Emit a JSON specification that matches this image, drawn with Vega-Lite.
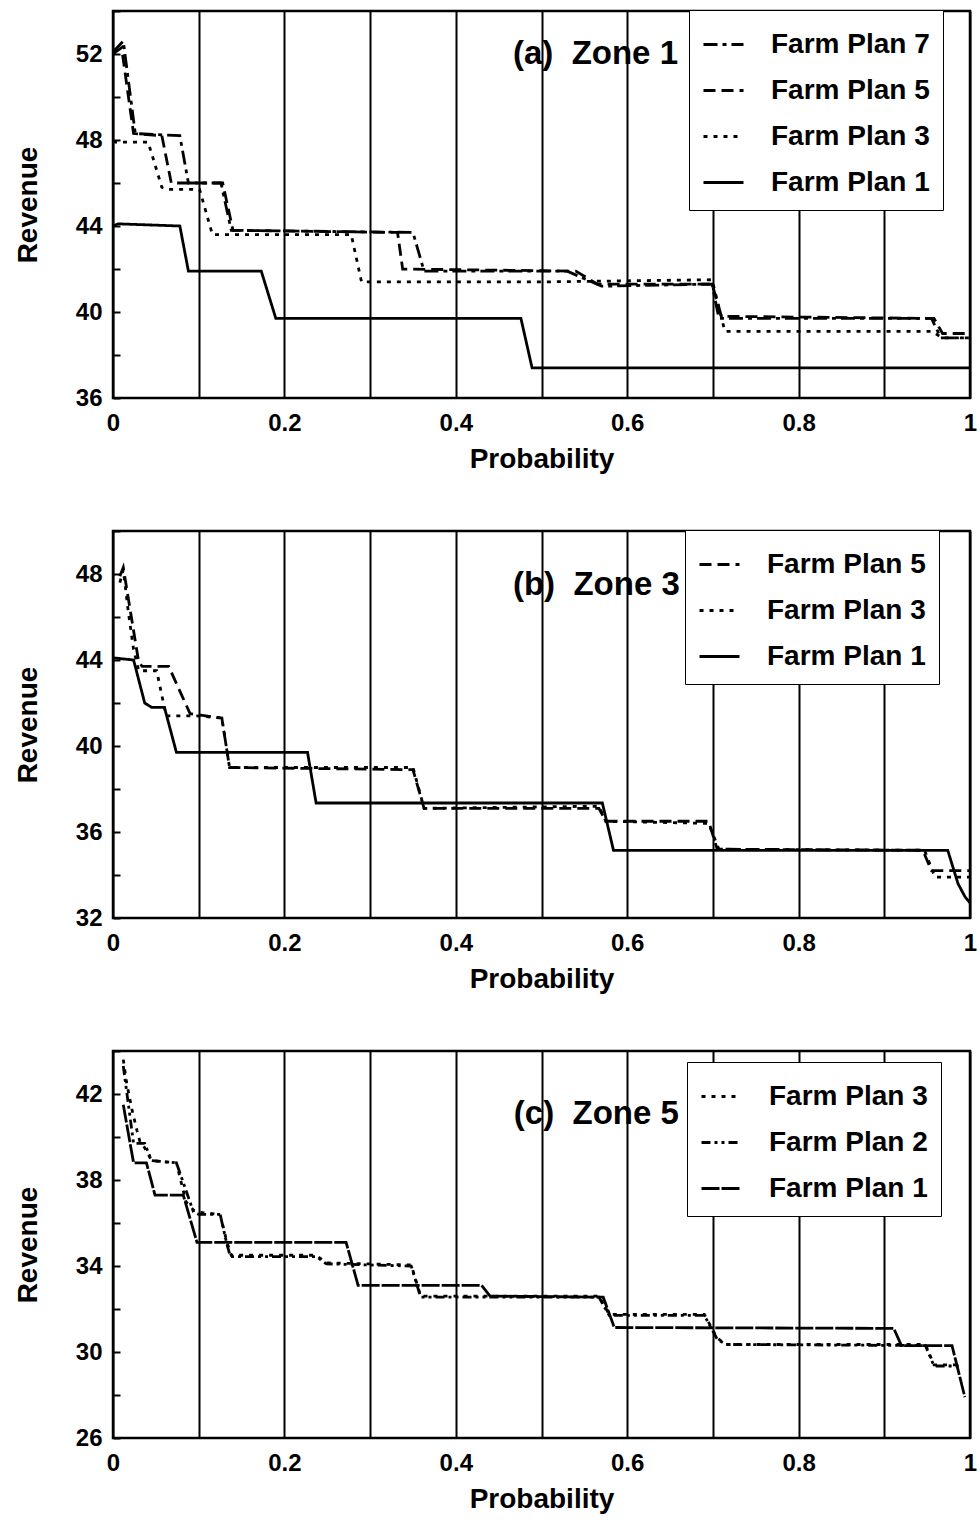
{
  "$schema": "https://vega.github.io/schema/vega-lite/v6.json",
  "background": "white",
  "padding": {"left": 13, "top": 8, "right": 6, "bottom": 4},
  "config": {
    "font": "Liberation Sans",
    "view": {"stroke": "black", "strokeWidth": 2.5},
    "axis": {
      "labelFont": "Liberation Sans", "labelFontWeight": "bold", "labelFontSize": 24, "labelColor": "black",
      "titleFont": "Liberation Sans", "titleFontWeight": "bold", "titleFontSize": 28, "titleColor": "black",
      "domain": false
    },
    "axisX": {
      "format": "~g",
      "grid": true, "gridColor": "black", "gridWidth": 2, "gridOpacity": 1,
      "ticks": false, "labelPadding": 13, "titlePadding": 10, "labelFlush": false
    },
    "axisY": {
      "grid": false, "ticks": true, "tickSize": -7, "tickWidth": 2, "tickColor": "black",
      "labelPadding": 18, "titlePadding": 33
    },
    "legend": {
      "orient": "none",
      "strokeColor": "black", "fillColor": "white", "padding": 13,
      "symbolType": "stroke", "symbolSize": 1600, "symbolStrokeWidth": 2.8, "symbolStrokeColor": "black",
      "labelFont": "Liberation Sans", "labelFontSize": 28, "labelFontWeight": "bold", "labelColor": "black",
      "labelOffset": 26, "rowPadding": 10, "title": null
    },
    "concat": {"spacing": 53}
  },
  "resolve": {"scale": {"strokeDash": "independent", "x": "independent", "y": "independent"}, "legend": {"strokeDash": "independent"}},
  "datasets": {
    "zone1": [
      {"plan": "Farm Plan 1", "p": 0, "rev": 44.0},
      {"plan": "Farm Plan 1", "p": 0.006, "rev": 44.1},
      {"plan": "Farm Plan 1", "p": 0.078, "rev": 44.0},
      {"plan": "Farm Plan 1", "p": 0.088, "rev": 41.9},
      {"plan": "Farm Plan 1", "p": 0.173, "rev": 41.9},
      {"plan": "Farm Plan 1", "p": 0.19, "rev": 39.7},
      {"plan": "Farm Plan 1", "p": 0.476, "rev": 39.7},
      {"plan": "Farm Plan 1", "p": 0.489, "rev": 37.4},
      {"plan": "Farm Plan 1", "p": 1, "rev": 37.4},
      {"plan": "Farm Plan 3", "p": 0, "rev": 47.9},
      {"plan": "Farm Plan 3", "p": 0.041, "rev": 47.9},
      {"plan": "Farm Plan 3", "p": 0.057, "rev": 45.8},
      {"plan": "Farm Plan 3", "p": 0.063, "rev": 45.7},
      {"plan": "Farm Plan 3", "p": 0.101, "rev": 45.7},
      {"plan": "Farm Plan 3", "p": 0.116, "rev": 43.6},
      {"plan": "Farm Plan 3", "p": 0.278, "rev": 43.6},
      {"plan": "Farm Plan 3", "p": 0.29, "rev": 41.4},
      {"plan": "Farm Plan 3", "p": 0.5, "rev": 41.4},
      {"plan": "Farm Plan 3", "p": 0.699, "rev": 41.5},
      {"plan": "Farm Plan 3", "p": 0.714, "rev": 39.1},
      {"plan": "Farm Plan 3", "p": 0.955, "rev": 39.1},
      {"plan": "Farm Plan 3", "p": 0.968, "rev": 38.8},
      {"plan": "Farm Plan 3", "p": 1, "rev": 38.8},
      {"plan": "Farm Plan 5", "p": 0, "rev": 52.0},
      {"plan": "Farm Plan 5", "p": 0.01, "rev": 52.3},
      {"plan": "Farm Plan 5", "p": 0.024, "rev": 48.3},
      {"plan": "Farm Plan 5", "p": 0.057, "rev": 48.2},
      {"plan": "Farm Plan 5", "p": 0.068, "rev": 46.0},
      {"plan": "Farm Plan 5", "p": 0.128, "rev": 46.0},
      {"plan": "Farm Plan 5", "p": 0.14, "rev": 43.8},
      {"plan": "Farm Plan 5", "p": 0.332, "rev": 43.7},
      {"plan": "Farm Plan 5", "p": 0.338, "rev": 42.0},
      {"plan": "Farm Plan 5", "p": 0.54, "rev": 41.9},
      {"plan": "Farm Plan 5", "p": 0.565, "rev": 41.3},
      {"plan": "Farm Plan 5", "p": 0.699, "rev": 41.3},
      {"plan": "Farm Plan 5", "p": 0.71, "rev": 39.8},
      {"plan": "Farm Plan 5", "p": 0.958, "rev": 39.7},
      {"plan": "Farm Plan 5", "p": 0.968, "rev": 39.0},
      {"plan": "Farm Plan 5", "p": 1, "rev": 39.0},
      {"plan": "Farm Plan 7", "p": 0, "rev": 52.1},
      {"plan": "Farm Plan 7", "p": 0.012, "rev": 52.6},
      {"plan": "Farm Plan 7", "p": 0.026, "rev": 48.3},
      {"plan": "Farm Plan 7", "p": 0.078, "rev": 48.2},
      {"plan": "Farm Plan 7", "p": 0.088, "rev": 46.0},
      {"plan": "Farm Plan 7", "p": 0.126, "rev": 46.0},
      {"plan": "Farm Plan 7", "p": 0.138, "rev": 43.8},
      {"plan": "Farm Plan 7", "p": 0.35, "rev": 43.7},
      {"plan": "Farm Plan 7", "p": 0.363, "rev": 41.9},
      {"plan": "Farm Plan 7", "p": 0.53, "rev": 41.9},
      {"plan": "Farm Plan 7", "p": 0.57, "rev": 41.2},
      {"plan": "Farm Plan 7", "p": 0.699, "rev": 41.3},
      {"plan": "Farm Plan 7", "p": 0.707, "rev": 39.7},
      {"plan": "Farm Plan 7", "p": 0.955, "rev": 39.7},
      {"plan": "Farm Plan 7", "p": 0.966, "rev": 38.8},
      {"plan": "Farm Plan 7", "p": 1, "rev": 38.8}
    ],
    "zone3": [
      {"plan": "Farm Plan 1", "p": 0, "rev": 44.1},
      {"plan": "Farm Plan 1", "p": 0.024, "rev": 44.0},
      {"plan": "Farm Plan 1", "p": 0.037, "rev": 42.0},
      {"plan": "Farm Plan 1", "p": 0.045, "rev": 41.8},
      {"plan": "Farm Plan 1", "p": 0.06, "rev": 41.8},
      {"plan": "Farm Plan 1", "p": 0.074, "rev": 39.7},
      {"plan": "Farm Plan 1", "p": 0.227, "rev": 39.7},
      {"plan": "Farm Plan 1", "p": 0.237, "rev": 37.35},
      {"plan": "Farm Plan 1", "p": 0.571, "rev": 37.35},
      {"plan": "Farm Plan 1", "p": 0.584, "rev": 35.15},
      {"plan": "Farm Plan 1", "p": 0.974, "rev": 35.15},
      {"plan": "Farm Plan 1", "p": 0.986, "rev": 33.6},
      {"plan": "Farm Plan 1", "p": 0.994, "rev": 33.0},
      {"plan": "Farm Plan 1", "p": 1, "rev": 32.7},
      {"plan": "Farm Plan 3", "p": 0.008, "rev": 47.6},
      {"plan": "Farm Plan 3", "p": 0.012, "rev": 48.2},
      {"plan": "Farm Plan 3", "p": 0.018, "rev": 46.2},
      {"plan": "Farm Plan 3", "p": 0.024, "rev": 44.5},
      {"plan": "Farm Plan 3", "p": 0.03, "rev": 43.5},
      {"plan": "Farm Plan 3", "p": 0.051, "rev": 43.5},
      {"plan": "Farm Plan 3", "p": 0.062, "rev": 41.4},
      {"plan": "Farm Plan 3", "p": 0.098, "rev": 41.4},
      {"plan": "Farm Plan 3", "p": 0.127, "rev": 41.3},
      {"plan": "Farm Plan 3", "p": 0.136, "rev": 39.0},
      {"plan": "Farm Plan 3", "p": 0.35, "rev": 39.0},
      {"plan": "Farm Plan 3", "p": 0.363, "rev": 37.1},
      {"plan": "Farm Plan 3", "p": 0.567, "rev": 37.2},
      {"plan": "Farm Plan 3", "p": 0.575, "rev": 36.5},
      {"plan": "Farm Plan 3", "p": 0.695, "rev": 36.4},
      {"plan": "Farm Plan 3", "p": 0.707, "rev": 35.2},
      {"plan": "Farm Plan 3", "p": 0.947, "rev": 35.15},
      {"plan": "Farm Plan 3", "p": 0.959, "rev": 33.9},
      {"plan": "Farm Plan 3", "p": 1, "rev": 33.9},
      {"plan": "Farm Plan 5", "p": 0.008, "rev": 47.9},
      {"plan": "Farm Plan 5", "p": 0.012, "rev": 48.3},
      {"plan": "Farm Plan 5", "p": 0.03, "rev": 43.9},
      {"plan": "Farm Plan 5", "p": 0.034, "rev": 43.7},
      {"plan": "Farm Plan 5", "p": 0.065, "rev": 43.7},
      {"plan": "Farm Plan 5", "p": 0.09, "rev": 41.5},
      {"plan": "Farm Plan 5", "p": 0.127, "rev": 41.3},
      {"plan": "Farm Plan 5", "p": 0.136, "rev": 39.0},
      {"plan": "Farm Plan 5", "p": 0.35, "rev": 38.9},
      {"plan": "Farm Plan 5", "p": 0.363, "rev": 37.1},
      {"plan": "Farm Plan 5", "p": 0.567, "rev": 37.1},
      {"plan": "Farm Plan 5", "p": 0.575, "rev": 36.5},
      {"plan": "Farm Plan 5", "p": 0.695, "rev": 36.5},
      {"plan": "Farm Plan 5", "p": 0.705, "rev": 35.2},
      {"plan": "Farm Plan 5", "p": 0.945, "rev": 35.15},
      {"plan": "Farm Plan 5", "p": 0.955, "rev": 34.2},
      {"plan": "Farm Plan 5", "p": 1, "rev": 34.2}
    ],
    "zone5": [
      {"plan": "Farm Plan 1", "p": 0.012, "rev": 41.5},
      {"plan": "Farm Plan 1", "p": 0.024, "rev": 38.8},
      {"plan": "Farm Plan 1", "p": 0.039, "rev": 38.8},
      {"plan": "Farm Plan 1", "p": 0.049, "rev": 37.3},
      {"plan": "Farm Plan 1", "p": 0.082, "rev": 37.3},
      {"plan": "Farm Plan 1", "p": 0.098, "rev": 35.1},
      {"plan": "Farm Plan 1", "p": 0.272, "rev": 35.1},
      {"plan": "Farm Plan 1", "p": 0.286, "rev": 33.1},
      {"plan": "Farm Plan 1", "p": 0.43, "rev": 33.1},
      {"plan": "Farm Plan 1", "p": 0.44, "rev": 32.6},
      {"plan": "Farm Plan 1", "p": 0.572, "rev": 32.55},
      {"plan": "Farm Plan 1", "p": 0.585, "rev": 31.14},
      {"plan": "Farm Plan 1", "p": 0.911, "rev": 31.1},
      {"plan": "Farm Plan 1", "p": 0.92, "rev": 30.3},
      {"plan": "Farm Plan 1", "p": 0.979, "rev": 30.3},
      {"plan": "Farm Plan 1", "p": 0.994, "rev": 27.9},
      {"plan": "Farm Plan 2", "p": 0.012, "rev": 43.3},
      {"plan": "Farm Plan 2", "p": 0.024, "rev": 39.7},
      {"plan": "Farm Plan 2", "p": 0.037, "rev": 39.7},
      {"plan": "Farm Plan 2", "p": 0.045, "rev": 38.9},
      {"plan": "Farm Plan 2", "p": 0.074, "rev": 38.8},
      {"plan": "Farm Plan 2", "p": 0.094, "rev": 36.5},
      {"plan": "Farm Plan 2", "p": 0.1, "rev": 36.4},
      {"plan": "Farm Plan 2", "p": 0.125, "rev": 36.4},
      {"plan": "Farm Plan 2", "p": 0.133, "rev": 35.0},
      {"plan": "Farm Plan 2", "p": 0.137, "rev": 34.44},
      {"plan": "Farm Plan 2", "p": 0.237, "rev": 34.44},
      {"plan": "Farm Plan 2", "p": 0.249, "rev": 34.1},
      {"plan": "Farm Plan 2", "p": 0.348, "rev": 34.0},
      {"plan": "Farm Plan 2", "p": 0.359, "rev": 32.55},
      {"plan": "Farm Plan 2", "p": 0.567, "rev": 32.55},
      {"plan": "Farm Plan 2", "p": 0.579, "rev": 31.7},
      {"plan": "Farm Plan 2", "p": 0.69, "rev": 31.7},
      {"plan": "Farm Plan 2", "p": 0.705, "rev": 30.6},
      {"plan": "Farm Plan 2", "p": 0.715, "rev": 30.35},
      {"plan": "Farm Plan 2", "p": 0.948, "rev": 30.3},
      {"plan": "Farm Plan 2", "p": 0.958, "rev": 29.35},
      {"plan": "Farm Plan 2", "p": 0.99, "rev": 29.35},
      {"plan": "Farm Plan 3", "p": 0.012, "rev": 43.6},
      {"plan": "Farm Plan 3", "p": 0.016, "rev": 42.5},
      {"plan": "Farm Plan 3", "p": 0.022, "rev": 41.3},
      {"plan": "Farm Plan 3", "p": 0.028, "rev": 40.3},
      {"plan": "Farm Plan 3", "p": 0.032, "rev": 39.7},
      {"plan": "Farm Plan 3", "p": 0.037, "rev": 39.5},
      {"plan": "Farm Plan 3", "p": 0.045, "rev": 38.9},
      {"plan": "Farm Plan 3", "p": 0.074, "rev": 38.8},
      {"plan": "Farm Plan 3", "p": 0.085, "rev": 37.0},
      {"plan": "Farm Plan 3", "p": 0.094, "rev": 36.6},
      {"plan": "Farm Plan 3", "p": 0.1, "rev": 36.5},
      {"plan": "Farm Plan 3", "p": 0.125, "rev": 36.4},
      {"plan": "Farm Plan 3", "p": 0.133, "rev": 35.1},
      {"plan": "Farm Plan 3", "p": 0.138, "rev": 34.5},
      {"plan": "Farm Plan 3", "p": 0.237, "rev": 34.5},
      {"plan": "Farm Plan 3", "p": 0.249, "rev": 34.15},
      {"plan": "Farm Plan 3", "p": 0.348, "rev": 34.05},
      {"plan": "Farm Plan 3", "p": 0.359, "rev": 32.6},
      {"plan": "Farm Plan 3", "p": 0.567, "rev": 32.6},
      {"plan": "Farm Plan 3", "p": 0.579, "rev": 31.75},
      {"plan": "Farm Plan 3", "p": 0.69, "rev": 31.75},
      {"plan": "Farm Plan 3", "p": 0.705, "rev": 30.65},
      {"plan": "Farm Plan 3", "p": 0.715, "rev": 30.35},
      {"plan": "Farm Plan 3", "p": 0.948, "rev": 30.35},
      {"plan": "Farm Plan 3", "p": 0.958, "rev": 29.4},
      {"plan": "Farm Plan 3", "p": 0.99, "rev": 29.4}
    ]
  },
  "vconcat": [
    {
      "width": 857, "height": 387,
      "layer": [
        {
          "data": {"name": "zone1"},
          "mark": {"type": "line", "color": "black", "strokeWidth": 2.8},
          "encoding": {
            "x": {"field": "p", "type": "quantitative", "title": "Probability", "scale": {"domain": [0, 1], "nice": false},
                  "axis": {"values": [0, 0.1, 0.2, 0.3, 0.4, 0.5, 0.6, 0.7, 0.8, 0.9, 1], "labelExpr": "round(datum.value*10) % 2 == 0 ? datum.label : ''"}},
            "y": {"field": "rev", "type": "quantitative", "title": "Revenue", "scale": {"domain": [36, 54], "nice": false, "zero": false},
                  "axis": {"values": [36, 38, 40, 42, 44, 46, 48, 50, 52, 54], "labelExpr": "datum.value % 4 == 0 ? datum.label : ''"}},
            "strokeDash": {"field": "plan", "type": "nominal",
              "scale": {"domain": ["Farm Plan 7", "Farm Plan 5", "Farm Plan 3", "Farm Plan 1"], "range": [[14, 5, 4, 5], [12, 6], [4, 6], [1, 0]]},
              "legend": {"legendX": 576, "legendY": -1}}
          }
        },
        {
          "data": {"values": [{}]},
          "mark": {"type": "text", "text": "(a)\u00a0 Zone 1", "font": "Liberation Sans", "fontSize": 33, "fontWeight": "bold", "color": "black", "align": "center", "baseline": "middle"},
          "encoding": {"x": {"datum": 0.563}, "y": {"datum": 52.0}}
        }
      ]
    },
    {
      "width": 857, "height": 387,
      "layer": [
        {
          "data": {"name": "zone3"},
          "mark": {"type": "line", "color": "black", "strokeWidth": 2.8},
          "encoding": {
            "x": {"field": "p", "type": "quantitative", "title": "Probability", "scale": {"domain": [0, 1], "nice": false},
                  "axis": {"values": [0, 0.1, 0.2, 0.3, 0.4, 0.5, 0.6, 0.7, 0.8, 0.9, 1], "labelExpr": "round(datum.value*10) % 2 == 0 ? datum.label : ''"}},
            "y": {"field": "rev", "type": "quantitative", "title": "Revenue", "scale": {"domain": [32, 50], "nice": false, "zero": false},
                  "axis": {"values": [32, 34, 36, 38, 40, 42, 44, 46, 48, 50], "labelExpr": "datum.value % 4 == 0 ? datum.label : ''"}},
            "strokeDash": {"field": "plan", "type": "nominal",
              "scale": {"domain": ["Farm Plan 5", "Farm Plan 3", "Farm Plan 1"], "range": [[12, 6], [4, 6], [1, 0]]},
              "legend": {"legendX": 572, "legendY": -1}}
          }
        },
        {
          "data": {"values": [{}]},
          "mark": {"type": "text", "text": "(b)\u00a0 Zone 3", "font": "Liberation Sans", "fontSize": 33, "fontWeight": "bold", "color": "black", "align": "center", "baseline": "middle"},
          "encoding": {"x": {"datum": 0.564}, "y": {"datum": 47.5}}
        }
      ]
    },
    {
      "width": 857, "height": 387,
      "layer": [
        {
          "data": {"name": "zone5"},
          "mark": {"type": "line", "color": "black", "strokeWidth": 2.8},
          "encoding": {
            "x": {"field": "p", "type": "quantitative", "title": "Probability", "scale": {"domain": [0, 1], "nice": false},
                  "axis": {"values": [0, 0.1, 0.2, 0.3, 0.4, 0.5, 0.6, 0.7, 0.8, 0.9, 1], "labelExpr": "round(datum.value*10) % 2 == 0 ? datum.label : ''"}},
            "y": {"field": "rev", "type": "quantitative", "title": "Revenue", "scale": {"domain": [26, 44], "nice": false, "zero": false},
                  "axis": {"values": [26, 28, 30, 32, 34, 36, 38, 40, 42, 44], "labelExpr": "(datum.value - 26) % 4 == 0 ? datum.label : ''"}},
            "strokeDash": {"field": "plan", "type": "nominal",
              "scale": {"domain": ["Farm Plan 3", "Farm Plan 2", "Farm Plan 1"], "range": [[4, 6], [9, 4, 3, 4, 3, 4], [18, 2]]},
              "legend": {"legendX": 574, "legendY": 11}}
          }
        },
        {
          "data": {"values": [{}]},
          "mark": {"type": "text", "text": "(c)\u00a0 Zone 5", "font": "Liberation Sans", "fontSize": 33, "fontWeight": "bold", "color": "black", "align": "center", "baseline": "middle"},
          "encoding": {"x": {"datum": 0.564}, "y": {"datum": 41.06}}
        }
      ]
    }
  ]
}
